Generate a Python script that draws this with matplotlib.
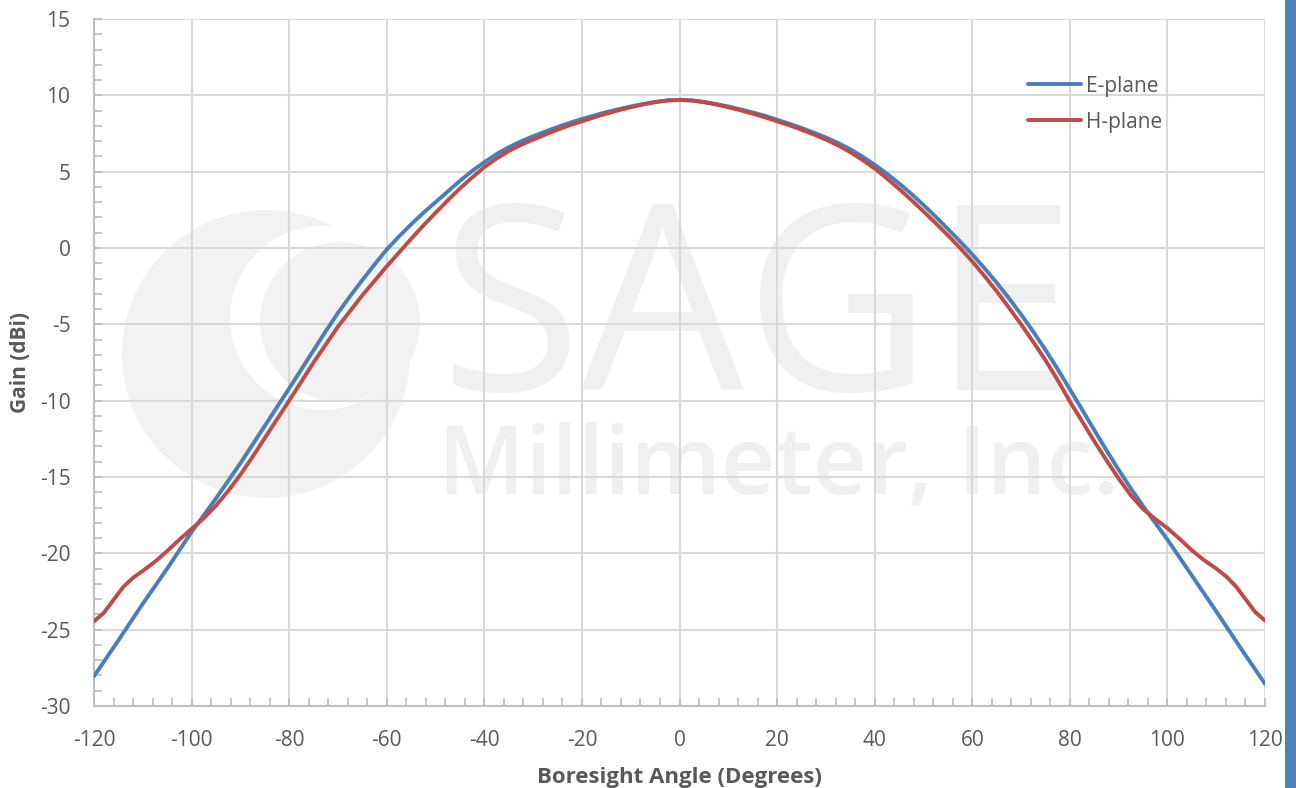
import matplotlib
matplotlib.use("Agg")
import matplotlib.pyplot as plt
from matplotlib.patches import Ellipse, Rectangle
from matplotlib.ticker import MultipleLocator

# Boresight angle (degrees) and gain (dBi)
angle_e = [-120, -115, -110, -105, -100, -95, -90, -85, -80, -75, -72.5, -70, -67.5, -65, -62.5,
           -60, -57.5, -55, -52.5, -50, -47.5, -45, -42.5, -40, -37.5, -35, -32.5,
           -30, -27.5, -25, -22.5, -20, -17.5, -15, -12.5, -10, -7.5, -5, -2.5,
           0, 2.5, 5, 7.5, 10, 12.5, 15, 17.5, 20, 22.5, 25, 27.5,
           30, 32.5, 35, 37.5, 40, 42.5, 45, 47.5, 50, 52.5, 55, 57.5,
           60, 62.5, 65, 67.5, 70, 72.5, 75, 77.5, 80, 82.5, 85, 87.5,
           90, 92.5, 95, 97.5, 100, 105, 110, 115, 120]
gain_e = [-28.05, -25.7, -23.3, -21.0, -18.6, -16.4, -14.1, -11.65, -9.2, -6.7, -5.45, -4.25, -3.15, -2.1, -1.08,
          -0.1, 0.75, 1.55, 2.3, 3.0, 3.7, 4.4, 5.05, 5.62, 6.15, 6.6, 6.98,
          7.32, 7.63, 7.92, 8.2, 8.45, 8.68, 8.9, 9.09, 9.27, 9.43, 9.57, 9.67,
          9.7, 9.67, 9.57, 9.43, 9.27, 9.08, 8.88, 8.66, 8.4, 8.14, 7.86, 7.56,
          7.24, 6.88, 6.47, 5.99, 5.45, 4.87, 4.23, 3.55, 2.82, 2.05, 1.25, 0.43,
          -0.42, -1.32, -2.27, -3.28, -4.35, -5.48, -6.67, -7.93, -9.25, -10.58, -11.92, -13.25,
          -14.52, -15.75, -16.9, -18.0, -19.1, -21.45, -23.8, -26.2, -28.55]

angle_h = [-120, -118, -116, -114, -112, -110, -107.5, -105, -102.5, -100, -97.5, -95, -92.5,
           -90, -87.5, -85, -80, -75, -70, -65, -60, -57.5, -55, -52.5,
           -50, -47.5, -45, -42.5, -40, -37.5, -35, -32.5, -30, -27.5, -25, -22.5,
           -20, -17.5, -15, -12.5, -10, -7.5, -5, -2.5, 0, 2.5, 5, 7.5,
           10, 12.5, 15, 17.5, 20, 22.5, 25, 27.5, 30, 32.5, 35, 37.5,
           40, 42.5, 45, 47.5, 50, 52.5, 55, 57.5, 60, 62.5, 65, 67.5,
           70, 72.5, 75, 77.5, 80, 82.5, 85, 87.5, 90, 92.5, 95, 97.5,
           100, 102.5, 105, 107.5, 110, 112, 114, 116, 118, 120]
gain_h = [-24.45, -23.9, -23.05, -22.2, -21.6, -21.15, -20.55, -19.85, -19.1, -18.4, -17.7, -16.87, -15.92,
          -14.85, -13.68, -12.45, -10.0, -7.5, -5.15, -3.1, -1.2, -0.3, 0.6, 1.47,
          2.3, 3.12, 3.9, 4.62, 5.3, 5.86, 6.35, 6.75, 7.1, 7.43, 7.75, 8.04,
          8.3, 8.56, 8.8, 9.02, 9.22, 9.4, 9.55, 9.66, 9.7, 9.66, 9.55, 9.4,
          9.22, 9.02, 8.8, 8.56, 8.3, 8.04, 7.75, 7.44, 7.1, 6.72, 6.28, 5.77,
          5.2, 4.56, 3.87, 3.15, 2.4, 1.63, 0.83, 0.0, -0.88, -1.83, -2.83, -3.9,
          -5.0, -6.15, -7.35, -8.65, -10.05, -11.35, -12.65, -13.9, -15.1, -16.2, -17.1, -17.75,
          -18.35, -19.05, -19.8, -20.45, -21.0, -21.5, -22.15, -23.0, -23.85, -24.4]

x_ticks = list(range(-120, 121, 20))
y_ticks = list(range(-30, 16, 5))

plt.rcParams.update({
    "font.family": ["Open Sans", "DejaVu Sans"],
    "font.size": 15,
    "axes.unicode_minus": False,
    "text.color": "#595959",
    "axes.labelcolor": "#595959",
    "xtick.color": "#595959",
    "ytick.color": "#595959",
})

W, H = 1296, 788
fig = plt.figure(figsize=(W / 100, H / 100), dpi=100)
x0, x1, y0, y1 = 94, 1265, 19, 706
ax = fig.add_axes([x0 / W, 1 - y1 / H, (x1 - x0) / W, (y1 - y0) / H])


def ax_xy(px, py):
    return (px - x0) / (x1 - x0), (y1 - py) / (y1 - y0)


# faint company watermark behind the grid
wm = "#f2f2f2"
cx, cy = ax_xy(266, 354)
ax.add_patch(Ellipse((cx, cy), 2 * 144 / (x1 - x0), 2 * 144 / (y1 - y0), transform=ax.transAxes,
                     color=wm, lw=0, zorder=0.1))
wx, wy = ax_xy(322, 318)
ax.add_patch(Ellipse((wx, wy), 2 * 92 / (x1 - x0), 2 * 92 / (y1 - y0), transform=ax.transAxes,
                     color="white", lw=0, zorder=0.15))
gx, gy = ax_xy(340, 322)
ax.add_patch(Ellipse((gx, gy), 2 * 80 / (x1 - x0), 2 * 80 / (y1 - y0), transform=ax.transAxes,
                     color=wm, lw=0, zorder=0.2))
tx, ty = ax_xy(440, 390)
ax.text(tx, ty, "SAGE", transform=ax.transAxes, fontsize=186, color="#f0f0f0",
        ha="left", va="baseline", zorder=0.2)
tx, ty = ax_xy(438, 494)
ax.text(tx, ty, "Millimeter, Inc.", transform=ax.transAxes, fontsize=68, color="#f0f0f0",
        fontweight="semibold", ha="left", va="baseline", zorder=0.2)

ax.plot(angle_e, gain_e, color="#4a7ebb", lw=2.8, label="E-plane", zorder=3,
        solid_capstyle="round", solid_joinstyle="round")
ax.plot(angle_h, gain_h, color="#be4b48", lw=2.8, label="H-plane", zorder=3,
        solid_capstyle="round", solid_joinstyle="round")

ax.set_xlim(-120, 120)
ax.set_ylim(-30, 15)
ax.set_xticks(x_ticks)
ax.set_yticks(y_ticks)
ax.xaxis.set_minor_locator(MultipleLocator(4))
ax.yaxis.set_minor_locator(MultipleLocator(1))
ax.tick_params(which="both", direction="in", color="#bfbfbf", width=1.3)
ax.tick_params(which="major", length=6)
ax.tick_params(which="minor", length=6)
ax.tick_params(axis="x", which="major", labelsize=15, pad=17)
ax.tick_params(axis="y", which="major", labelsize=15, pad=17)

ax.grid(True, which="major", color="#d9d9d9", lw=1.5)
ax.set_axisbelow(True)
for side in ("top", "right"):
    ax.spines[side].set_visible(False)
for side in ("left", "bottom"):
    ax.spines[side].set_color("#bfbfbf")
    ax.spines[side].set_linewidth(1.5)

ax.set_xlabel("Boresight Angle (Degrees)", fontsize=16, fontweight="bold", labelpad=12)
ax.set_ylabel("Gain (dBi)", fontsize=15, fontweight="bold", labelpad=6)

ax.legend(loc="upper right", bbox_to_anchor=(ax_xy(1181, 57)), frameon=False,
          handlelength=2.55, handletextpad=0.25, labelspacing=0.72, fontsize=15)

# blue strip along the right edge
fig.patches.append(Rectangle((1285 / W, 0), 11 / W, 1, transform=fig.transFigure,
                             color="#4f81bd", lw=0))

fig.savefig("out.png", dpi=100)
